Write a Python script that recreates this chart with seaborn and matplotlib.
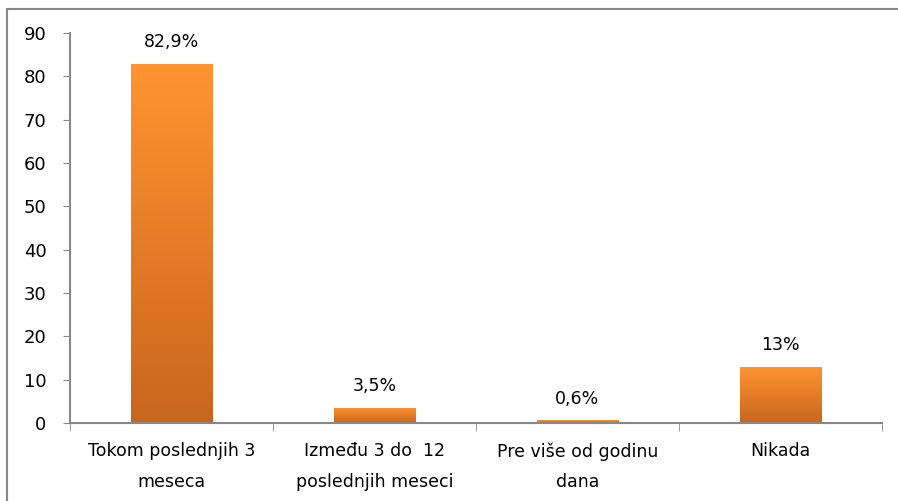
import numpy as np
import pandas as pd
import matplotlib
matplotlib.use("Agg")
import matplotlib.pyplot as plt
import seaborn as sns
from matplotlib.colors import LinearSegmentedColormap
from matplotlib.patches import Rectangle

categories = ["Tokom poslednjih 3\nmeseca", "Između 3 do  12\nposlednjih meseci",
              "Pre više od godinu\ndana", "Nikada"]
values = [82.9, 3.5, 0.6, 13]
value_labels = ["82,9%", "3,5%", "0,6%", "13%"]

sns.set_style("white")
plt.rcParams['font.family'] = ['DejaVu Sans']
plt.rcParams['text.color'] = 'black'

df = pd.DataFrame({"cat": categories, "val": values})

fig = plt.figure(figsize=(8.98, 5.01), dpi=100)
ax = fig.add_axes([0.078, 0.156, 0.904, 0.778])
sns.barplot(data=df, x="cat", y="val", color="#F98B2B", width=0.4, ax=ax)

# gradient fill: light orange on top, darker at the base
cmap = LinearSegmentedColormap.from_list("org", ["#C9661E", "#FF9430"])
grad = np.linspace(0, 1, 256).reshape(-1, 1)
for p in ax.patches:
    x0, y0 = p.get_x(), p.get_y()
    w, h = p.get_width(), p.get_height()
    im = ax.imshow(grad, cmap=cmap, aspect="auto", origin="lower",
                   extent=[x0, x0 + w, y0, y0 + h], zorder=2)
    im.set_clip_path(p)
    p.set_facecolor("none")
    p.set_edgecolor("none")

for i, (v, lab) in enumerate(zip(values, value_labels)):
    ax.annotate(lab, (i, v), xytext=(0, 9), textcoords="offset points",
                ha="center", va="bottom", fontsize=12.5, color="black")

ax.set_xlim(-0.5, 3.5)
ax.set_ylim(0, 90)
ax.set_yticks(range(0, 91, 10))
ax.set_xlabel("")
ax.set_ylabel("")
ax.tick_params(axis="y", labelsize=13, length=5, color="#888888", labelcolor="black",
               direction="out", left=True, pad=12)
ax.tick_params(axis="x", which="major", length=0, labelsize=12.5, labelcolor="black", pad=14)
for t in ax.get_xticklabels():
    t.set_linespacing(1.9)
ax.set_xticks(np.arange(-0.5, 4, 1), minor=True)
ax.tick_params(axis="x", which="minor", length=6, color="#888888", bottom=True)
for s in ["top", "right"]:
    ax.spines[s].set_visible(False)
for s in ["left", "bottom"]:
    ax.spines[s].set_color("#888888")
    ax.spines[s].set_linewidth(1.5)

fig.patches.append(Rectangle((0.008, -0.01), 1.0, 0.992, transform=fig.transFigure,
                             fill=False, edgecolor="#888888", linewidth=1.5))

fig.savefig("out.png", dpi=100)
